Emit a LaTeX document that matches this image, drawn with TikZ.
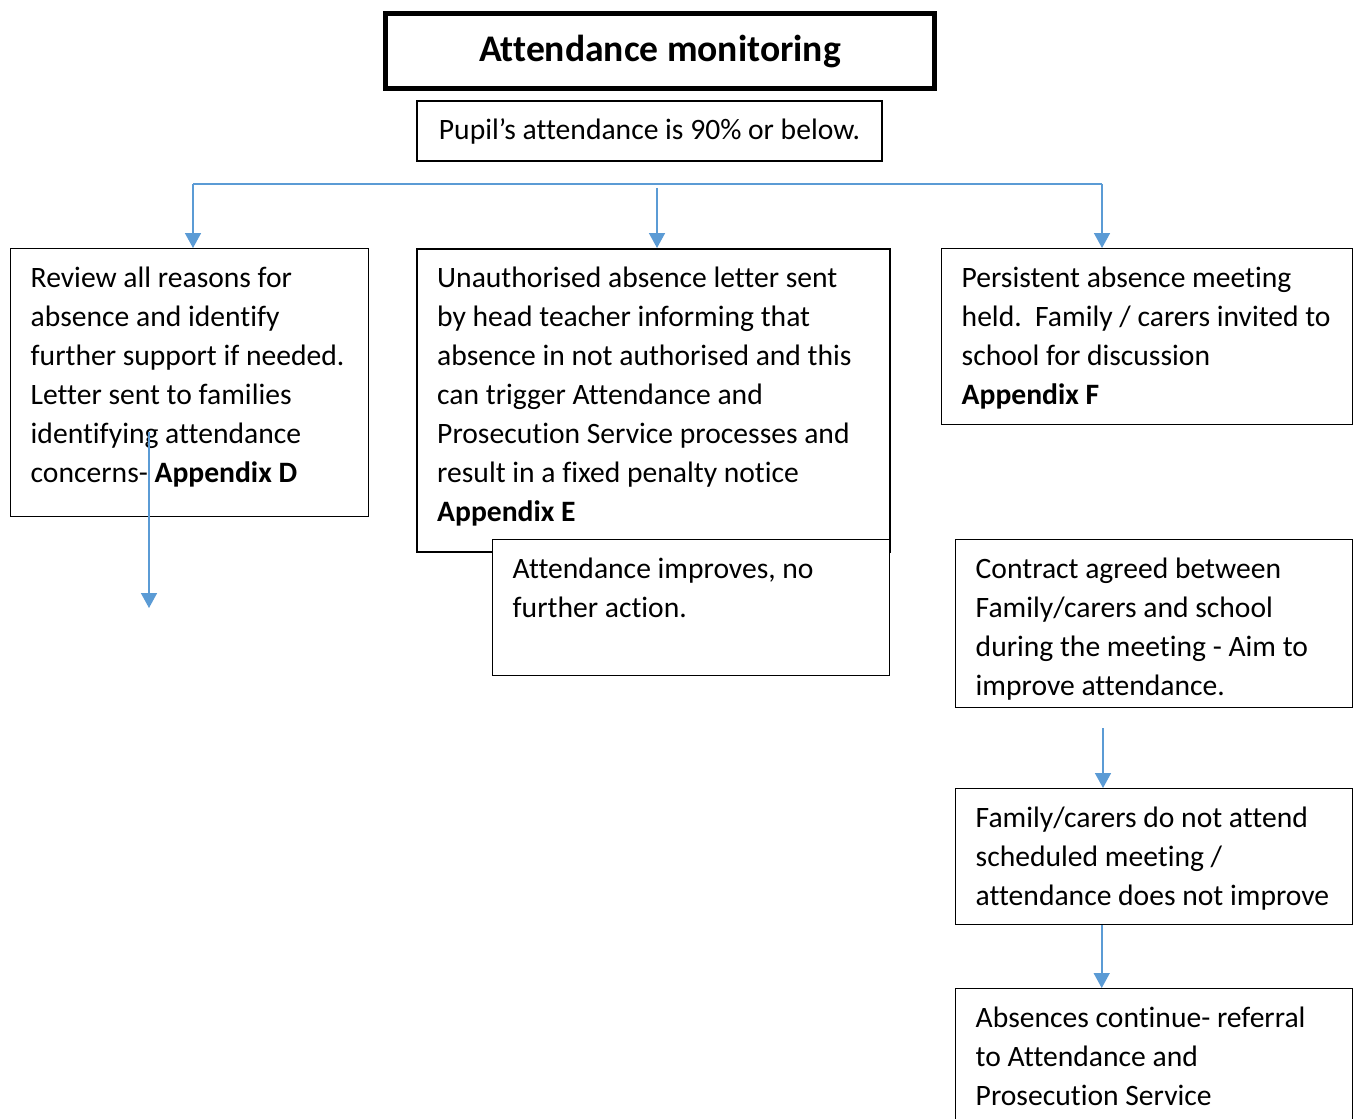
\documentclass[tikz,border=0pt]{standalone}
\usepackage{fontspec}
\setmainfont[Ligatures=NoCommon]{Carlito}
\usepackage{tikz}
\usetikzlibrary{arrows.meta,positioning,calc}
\definecolor{flowblue}{HTML}{5B9BD5}
\newcommand{\boxtext}[3]{\parbox[c][#2][t]{#1}{\raggedright #3}}
\newcommand{\bodysize}{\fontsize{14.8pt}{19.5pt}\selectfont}

\begin{document}
\begin{tikzpicture}[x=0.5pt, y=-0.5pt,
  box/.style={draw, line width=0.7pt, fill=white, anchor=north west, inner xsep=10pt, inner ysep=9pt, font=\bodysize},
  flow/.style={draw=flowblue, line width=0.8pt, -{Triangle[width=8pt,length=7.5pt]}}]
\path[use as bounding box, clip] (0,0) rectangle (1358,1118);
\fill[white] (0,0) rectangle (1358,1118);
% Heading
\node[draw, line width=2.5pt, minimum width=274.5pt, minimum height=37.5pt, inner sep=0pt,
  font=\fontsize{18.8pt}{22pt}\selectfont\bfseries] (title) at (660,51.5) {Attendance monitoring};
\node[draw, line width=0.7pt, minimum width=232.5pt, minimum height=30pt, inner sep=0pt,
  font=\bodysize] (pupil) at (649.5,131) {Pupil’s attendance is 90\% or below.};
% Three routes
\node[box] (review) at (10,248) {\boxtext{159pt}{116pt}{Review all reasons for\\absence and identify\\further support if needed.\\Letter sent to families\\identifying attendance\\concerns- \textbf{Appendix D}}};
\node[box, line width=1.2pt] (letter) at (416,248) {\boxtext{216.5pt}{133.5pt}{Unauthorised absence letter sent\\by head teacher informing that\\absence in not authorised and this\\can trigger Attendance and\\Prosecution Service processes and\\result in a fixed penalty notice\\\textbf{Appendix E}}};
\node[box] (meeting) at (941,248) {\boxtext{185.5pt}{70pt}{Persistent absence meeting\\held.\ \ Family / carers invited to\\school for discussion\\\textbf{Appendix F}}};
\node[box] (improves) at (492,539) {\boxtext{178.5pt}{50pt}{Attendance improves, no\\further action.}};
% Right hand column
\node[box] (contract) at (955,539) {\boxtext{178.5pt}{66pt}{Contract agreed between\\Family/carers and school\\during the meeting - Aim to\\improve attendance.}};
\node[box] (noattend) at (955,788) {\boxtext{178.5pt}{50pt}{Family/carers do not attend\\scheduled meeting /\\attendance does not improve}};
\node[box] (referral) at (955,988) {\boxtext{178.5pt}{67pt}{Absences continue- referral\\to Attendance and\\Prosecution Service}};
% Connectors
\coordinate (splitL) at (193,184);
\coordinate (splitR) at (1102,184);
\coordinate (splitM) at (657,188);
\draw[flowblue, line width=0.8pt] (splitL) -- (splitR);
\draw[flow] (splitL) -- (splitL |- review.north);
\draw[flow] (splitM) -- (splitM |- letter.north);
\draw[flow] (splitR) -- (splitR |- meeting.north);
\coordinate (strayTop) at (149,432);
\coordinate (strayEnd) at (149,608);
\draw[flow] (strayTop) -- (strayEnd);
\coordinate (gapTop) at (1103,728);
\draw[flow] (gapTop) -- (gapTop |- noattend.north);
\draw[flow] ([xshift=-26.25pt]noattend.south) -- ([xshift=-26.25pt]referral.north);
\end{tikzpicture}
\end{document}
